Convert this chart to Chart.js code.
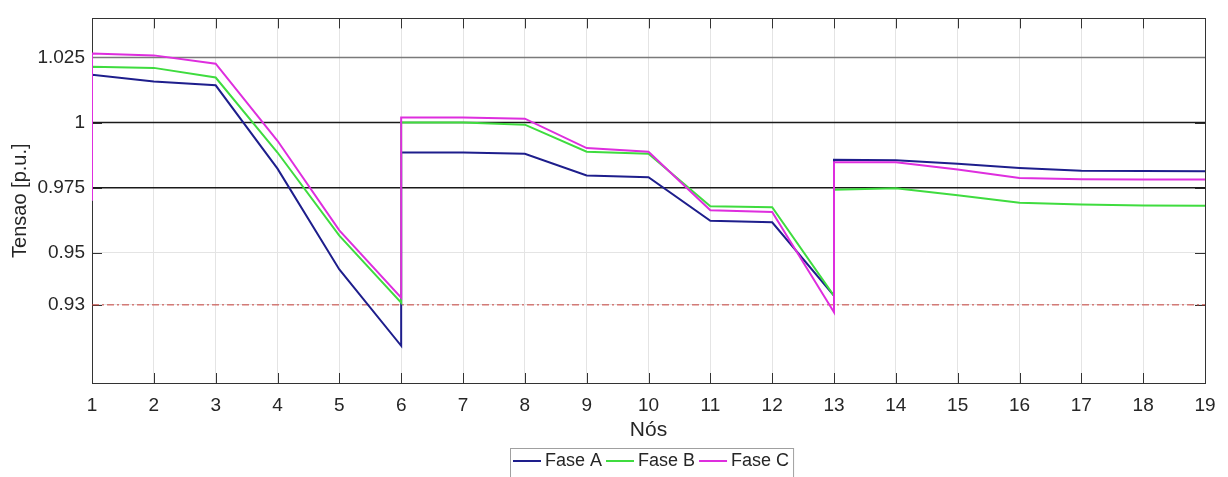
<!DOCTYPE html>
<html>
<head>
<meta charset="utf-8">
<script src="https://cdn.jsdelivr.net/npm/chart.js@4.4.1/dist/chart.umd.min.js"></script>
<style>
  html, body { margin: 0; padding: 0; background: #fff; }
</style>
</head>
<body>
<canvas id="tensaoChart" width="1228" height="477"></canvas>
<script>
// node numbers; 1, 6 and 13 appear twice because the profile jumps there
const nodes = [1, 1, 2, 3, 4, 5, 6, 6, 7, 8, 9, 10, 11, 12, 13, 13, 14, 15, 16, 17, 18, 19];

const faseA = [0.970, 1.0184, 1.0158, 1.0143, 0.9823, 0.9436, 0.9143, 0.9885, 0.9885, 0.9880, 0.9797, 0.9790,
               0.9623, 0.9617, 0.9335, 0.9857, 0.9855, 0.9842, 0.9826, 0.9815, 0.9814, 0.9813];
const faseB = [0.970, 1.0214, 1.0210, 1.0173, 0.9885, 0.9566, 0.9308, 1.0000, 1.0000, 0.9992, 0.9888, 0.9880,
               0.9679, 0.9675, 0.9335, 0.9742, 0.9748, 0.9721, 0.9692, 0.9685, 0.9682, 0.9681];
const faseC = [0.970, 1.0265, 1.0258, 1.0226, 0.9930, 0.9586, 0.9328, 1.0019, 1.0019, 1.0015, 0.9902, 0.9888,
               0.9663, 0.9657, 0.9272, 0.9848, 0.9848, 0.9820, 0.9787, 0.9782, 0.9781, 0.9781];

const yTicks = [0.93, 0.95, 0.975, 1, 1.025];
const limiteSup = 1.025;      // gray reference
const faixa = [1, 0.975];     // black reference lines
const limiteInf = 0.93;       // red dash-dot
const xRange = [1, 19];

const FONT = '"Liberation Sans", Arial, Helvetica, sans-serif';
const TXT = '#262626';

const pts = ys => nodes.map((n, i) => ({ x: n, y: ys[i] }));
const hline = v => xRange.map(x => ({ x, y: v }));

function serie(label, ys, color, order) {
  return { label, data: pts(ys), borderColor: color, backgroundColor: color,
    borderWidth: 2, pointRadius: 0, tension: 0, order, inLegend: true };
}
function refLine(v, color, width, dash) {
  return { label: '', data: hline(v), borderColor: color, borderWidth: width,
    borderDash: dash || [], pointRadius: 0, order: 10, inLegend: false };
}

// box around the axes with MATLAB-style inward ticks
const axesBox = {
  id: 'axesBox',
  beforeDatasetsDraw(chart) {
    const { ctx, chartArea: a, scales: { x, y } } = chart;
    ctx.save();
    ctx.strokeStyle = '#333';
    ctx.lineWidth = 1;
    ctx.beginPath();
    x.ticks.forEach(t => {
      const px = Math.round(x.getPixelForValue(t.value)) + 0.5;
      ctx.moveTo(px, a.top); ctx.lineTo(px, a.top + 10);
      ctx.moveTo(px, a.bottom); ctx.lineTo(px, a.bottom - 10);
    });
    y.ticks.forEach(t => {
      const py = Math.round(y.getPixelForValue(t.value)) + 0.5;
      ctx.moveTo(a.left, py); ctx.lineTo(a.left + 10, py);
      ctx.moveTo(a.right, py); ctx.lineTo(a.right - 10, py);
    });
    ctx.stroke();
    ctx.strokeRect(Math.round(a.left) + 0.5, Math.round(a.top) + 0.5,
                   Math.round(a.width), Math.round(a.height));
    ctx.restore();
  }
};

// boxed horizontal legend under the axis title
const legendBox = {
  id: 'legendBox',
  afterDraw(chart, args, opts) {
    const { ctx } = chart;
    const items = chart.data.datasets.filter(d => d.inLegend);
    ctx.save();
    ctx.font = '18px ' + FONT;
    ctx.textBaseline = 'middle';
    let x = opts.left + 3;
    items.forEach(d => {
      ctx.strokeStyle = d.borderColor;
      ctx.lineWidth = 2;
      ctx.beginPath();
      ctx.moveTo(x, opts.lineY); ctx.lineTo(x + 28, opts.lineY);
      ctx.stroke();
      x += 32;
      ctx.fillStyle = TXT;
      ctx.fillText(d.label, x, opts.textY);
      x += ctx.measureText(d.label).width + 4;
    });
    ctx.strokeStyle = '#a0a0a0';
    ctx.lineWidth = 1;
    ctx.strokeRect(opts.left + 0.5, opts.top + 0.5, x - opts.left, 40);
    ctx.restore();
  }
};

new Chart(document.getElementById('tensaoChart'), {
  type: 'line',
  data: {
    datasets: [
      serie('Fase A', faseA, '#1e1e8c', 3),
      serie('Fase B', faseB, '#3fdc3f', 2),
      serie('Fase C', faseC, '#de2ede', 1),
      refLine(limiteSup, '#7a7a7a', 1.5),
      ...faixa.map(v => refLine(v, '#1a1a1a', 1.5)),
      refLine(limiteInf, '#c8403a', 1, [7, 3, 2, 3])
    ]
  },
  options: {
    responsive: false,
    animation: false,
    layout: { padding: { left: 0, right: 23, top: 12, bottom: 34 } },
    plugins: {
      legend: { display: false },
      tooltip: { enabled: false },
      legendBox: { left: 510, top: 448, lineY: 461, textY: 461 }
    },
    scales: {
      x: {
        type: 'linear', min: xRange[0], max: xRange[1],
        ticks: { stepSize: 1, color: TXT, padding: 11, font: { family: FONT, size: 19 } },
        grid: { color: '#e4e4e4', drawTicks: false },
        border: { display: false },
        title: { display: true, text: 'Nós', color: TXT, padding: { top: 0, bottom: 0 },
                 font: { family: FONT, size: 21 } },
        afterFit(s) { s.height = 60; }
      },
      y: {
        min: 0.90, max: 1.04,
        afterBuildTicks(s) { s.ticks = yTicks.map(v => ({ value: v })); },
        ticks: { color: TXT, padding: 7, font: { family: FONT, size: 19 },
                 callback: v => String(v) },
        grid: { color: '#e4e4e4', drawTicks: false },
        border: { display: false },
        title: { display: true, text: 'Tensao [p.u.]', color: TXT, padding: { top: 8, bottom: 0 },
                 font: { family: FONT, size: 20 } },
        afterFit(s) { s.width = 92; }
      }
    }
  },
  plugins: [axesBox, legendBox]
});
</script>
</body>
</html>
